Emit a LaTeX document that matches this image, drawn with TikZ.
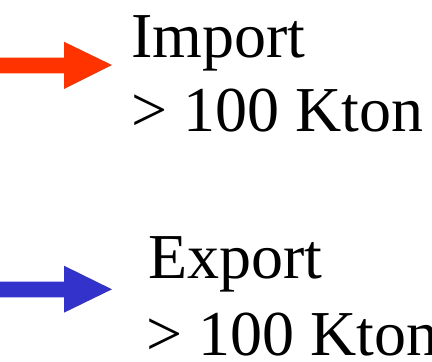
\documentclass[tikz,border=0pt]{standalone}
\usepackage{fontspec}
\setmainfont{Liberation Serif}
\usetikzlibrary{positioning}
\definecolor{importred}{RGB}{255,51,0}
\definecolor{exportblue}{RGB}{51,51,204}
\tikzset{
  legendtext/.style={anchor=base west,inner sep=0pt,font=\fontsize{64}{64}\selectfont},
  legendarrow/.style={draw=none}
}
\begin{document}
\begin{tikzpicture}[x=1pt,y=-1pt]
      \useasboundingbox (0,0) rectangle (432,362);
      % import
      \fill[legendarrow,fill=importred] (0,57.7) -- (64,57.7) -- (64,41.7) -- (112,65) -- (64,89) -- (64,73.3) -- (0,73.3) -- cycle;
      \node[legendtext] (imp) at (131,57) {Import};
      \node[legendtext] (impval) at (131,131) {> 100 Kton};
      % export
      \fill[legendarrow,fill=exportblue] (0,281.7) -- (64,281.7) -- (64,265.7) -- (112,289.3) -- (64,312.7) -- (64,297.3) -- (0,297.3) -- cycle;
      \node[legendtext] (exp) at (148,278) {Export};
      \node[legendtext] (expval) at (146,355) {> 100 Kton};
    \end{tikzpicture}
\end{document}
